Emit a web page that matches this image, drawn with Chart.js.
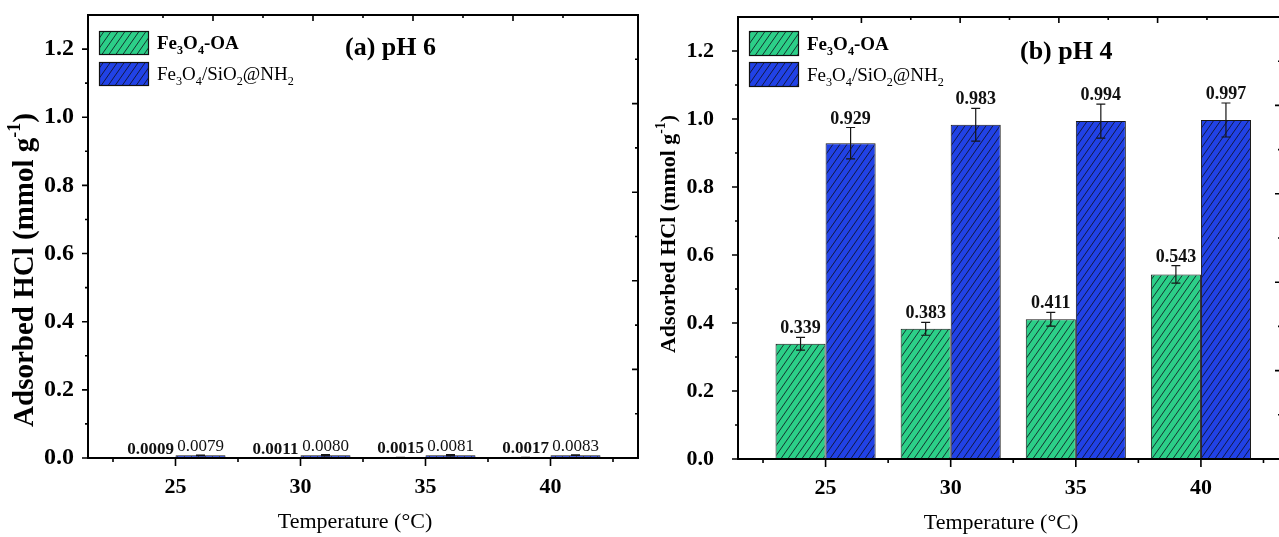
<!DOCTYPE html>
<html><head><meta charset="utf-8">
<script src="https://cdn.jsdelivr.net/npm/chart.js@4.4.1/dist/chart.umd.min.js"></script>
<style>
html,body{margin:0;padding:0;background:#fff;overflow:hidden;width:1279px;height:537px;position:relative;}
canvas{position:absolute;top:0;}
</style></head><body>
<canvas id="pa" width="660" height="537" style="left:0;width:660px;height:537px"></canvas>
<canvas id="pb" width="660" height="537" style="left:640px;width:660px;height:537px"></canvas>
<script>
// ---------- data ----------
const temperatures = [25, 30, 35, 40];
const seriesNames = ['Fe3O4-OA', 'Fe3O4/SiO2@NH2'];
const ph6OA = [0.0009, 0.0011, 0.0015, 0.0017];
const ph6NH2 = [0.0079, 0.0080, 0.0081, 0.0083];
const ph6OAErr = [0.0003, 0.0003, 0.0004, 0.0004];
const ph6NH2Err = [0.0008, 0.0020, 0.0020, 0.0010];
const ph4OA = [0.339, 0.383, 0.411, 0.543];
const ph4NH2 = [0.929, 0.983, 0.994, 0.997];
const ph4OAErr = [0.019, 0.019, 0.020, 0.026];
const ph4NH2Err = [0.046, 0.048, 0.050, 0.050];
const yTickValues = [0, 0.2, 0.4, 0.6, 0.8, 1.0, 1.2];
const yMinorValues = [0.1, 0.3, 0.5, 0.7, 0.9, 1.1];
const xMinorValues = [22.5, 27.5, 32.5, 37.5, 42.5];
const frameMajor = [1, 2, 3, 4];
const frameMinor = [0.5, 1.5, 2.5, 3.5, 4.5];
const panelTitles = ['(a) pH 6', '(b) pH 4'];
const xTitle = 'Temperature (°C)';
const yTitleParts = [['Adsorbed HCl (mmol g', ''], ['-1', 'sup'], [')', '']];

const FAM = '"Liberation Serif", "Times New Roman", serif';
const GREEN = '#2ccf88';
const BLUE = '#2142e6';

function hatch(color) {
  const c = document.createElement('canvas');
  c.width = 7; c.height = 10;
  const g = c.getContext('2d');
  g.fillStyle = color; g.fillRect(0, 0, 7, 10);
  g.strokeStyle = 'rgba(15,15,25,0.8)'; g.lineWidth = 1;
  g.beginPath();
  g.moveTo(-2.1, 13); g.lineTo(9.1, -3);
  g.moveTo(-2.1, 3); g.lineTo(2.1, -3);
  g.moveTo(4.9, 13); g.lineTo(9.1, 7);
  g.stroke();
  return c;
}
const hatchCanvases = [hatch(GREEN), hatch(BLUE)];

function richText(ctx, text, x, y, size, weight) {
  // digits in chemical names are subscripts
  let cx = x;
  for (const ch of text) {
    const sub = /\d/.test(ch);
    const s = sub ? size * 0.64 : size;
    ctx.font = `${weight} ${s}px ${FAM}`;
    ctx.fillText(ch, cx, sub ? y + size * 0.26 : y);
    cx += ctx.measureText(ch).width;
  }
}

function partsWidth(ctx, parts, size) {
  let w = 0;
  for (const [t, k] of parts) {
    ctx.font = `bold ${k === 'sup' ? size * 0.62 : size}px ${FAM}`;
    w += ctx.measureText(t).width;
  }
  return w;
}

const decor = {
  id: 'panelDecor',
  afterDatasetsDraw(chart) {
    const o = chart.options.plugins.panelDecor;
    const ctx = chart.ctx, ys = chart.scales.y;
    ctx.save();
    chart.data.datasets.forEach((ds, di) => {
      const meta = chart.getDatasetMeta(di);
      meta.data.forEach((bar, i) => {
        const v = ds.data[i].y, e = ds.errors[i];
        const yt = ys.getPixelForValue(v + e), yb = ys.getPixelForValue(v - e);
        ctx.strokeStyle = '#151515'; ctx.lineWidth = 1.2;
        ctx.beginPath();
        ctx.moveTo(bar.x, yt); ctx.lineTo(bar.x, yb);
        ctx.moveTo(bar.x - 4.5, yt); ctx.lineTo(bar.x + 4.5, yt);
        ctx.moveTo(bar.x - 4.5, yb); ctx.lineTo(bar.x + 4.5, yb);
        ctx.stroke();
        ctx.fillStyle = '#111';
        ctx.font = `${o.labelWeights[di]} ${o.labelSize}px ${FAM}`;
        ctx.textAlign = 'center'; ctx.textBaseline = 'alphabetic';
        ctx.fillText(v.toFixed(o.digits), bar.x, yt - o.labelGap);
      });
    });
    ctx.restore();
  },
  afterDraw(chart) {
    const o = chart.options.plugins.panelDecor;
    const ctx = chart.ctx, a = chart.chartArea;
    const xs = chart.scales.x, ys = chart.scales.y, x2 = chart.scales.x2, y2 = chart.scales.y2;
    ctx.save();
    ctx.strokeStyle = '#000'; ctx.lineWidth = 2;
    ctx.strokeRect(a.left, a.top, a.right - a.left, a.bottom - a.top);
    ctx.lineWidth = 1.6;
    ctx.beginPath();
    temperatures.forEach(v => { const p = xs.getPixelForValue(v); ctx.moveTo(p, a.bottom); ctx.lineTo(p, a.bottom + 8); });
    xMinorValues.forEach(v => { const p = xs.getPixelForValue(v); ctx.moveTo(p, a.bottom); ctx.lineTo(p, a.bottom + 4); });
    yTickValues.forEach(v => { const p = ys.getPixelForValue(v); ctx.moveTo(a.left, p); ctx.lineTo(a.left - 6, p); });
    yMinorValues.forEach(v => { const p = ys.getPixelForValue(v); ctx.moveTo(a.left, p); ctx.lineTo(a.left - 3, p); });
    frameMajor.forEach(v => {
      const px = x2.getPixelForValue(v); ctx.moveTo(px, a.top); ctx.lineTo(px, a.top + 6);
      const py = y2.getPixelForValue(v); ctx.moveTo(a.right, py); ctx.lineTo(a.right - 6, py);
    });
    frameMinor.forEach(v => {
      const px = x2.getPixelForValue(v); ctx.moveTo(px, a.top); ctx.lineTo(px, a.top + 3);
      const py = y2.getPixelForValue(v); ctx.moveTo(a.right, py); ctx.lineTo(a.right - 3, py);
    });
    ctx.stroke();

    // legend
    ctx.textAlign = 'left'; ctx.textBaseline = 'alphabetic';
    chart.data.datasets.forEach((ds, di) => {
      const top = o.legendY + di * o.legendGap;
      const pat = ctx.createPattern(hatchCanvases[di], 'repeat');
      ctx.fillStyle = pat;
      ctx.fillRect(o.legendX, top, o.legendW, o.legendH);
      ctx.strokeStyle = '#111'; ctx.lineWidth = 1.2;
      ctx.strokeRect(o.legendX + 0.5, top + 0.5, o.legendW - 1, o.legendH - 1);
      ctx.fillStyle = '#000';
      richText(ctx, ds.label, o.legendTextX, top + o.legendH / 2 + o.legendSize * 0.33, o.legendSize, o.legendWeights[di]);
    });

    // panel title
    ctx.fillStyle = '#000';
    ctx.font = `bold ${o.titleSize}px ${FAM}`;
    ctx.textBaseline = 'middle';
    ctx.fillText(o.title, o.titleX, o.titleY);

    // x title
    ctx.font = `${o.xTitleSize}px ${FAM}`;
    ctx.textAlign = 'center';
    ctx.fillText(xTitle, o.xTitleX, o.xTitleY);

    // y title (rotated)
    ctx.translate(o.yTitleX, o.yTitleY);
    ctx.rotate(-Math.PI / 2);
    const w = partsWidth(ctx, yTitleParts, o.yTitleSize);
    let cx = -w / 2;
    ctx.textAlign = 'left'; ctx.textBaseline = 'middle';
    for (const [t, k] of yTitleParts) {
      const s = k === 'sup' ? o.yTitleSize * 0.62 : o.yTitleSize;
      ctx.font = `bold ${s}px ${FAM}`;
      ctx.fillText(t, cx, k === 'sup' ? -o.yTitleSize * 0.36 : 0);
      cx += ctx.measureText(t).width;
    }
    ctx.restore();
  }
};

function makePanel(id, oa, nh2, oaErr, nh2Err, cfg) {
  const canvas = document.getElementById(id);
  const ctx = canvas.getContext('2d');
  const datasets = [[oa, oaErr], [nh2, nh2Err]].map(([vals, errs], di) => ({
    label: seriesNames[di],
    data: temperatures.map((t, i) => ({ x: t, y: vals[i] })),
    errors: errs,
    backgroundColor: ctx.createPattern(hatchCanvases[di], 'repeat'),
    borderColor: '#161616',
    borderWidth: 1,
    borderSkipped: false,
    categoryPercentage: 0.8,
    barPercentage: 1.0,
    xAxisID: 'x', yAxisID: 'y'
  }));
  return new Chart(canvas, {
    type: 'bar',
    data: { datasets },
    plugins: [decor],
    options: {
      responsive: false, animation: false, devicePixelRatio: 1,
      layout: { padding: { top: cfg.top, right: cfg.padRight, left: 0, bottom: 0 } },
      plugins: { legend: { display: false }, tooltip: { enabled: false }, panelDecor: cfg.decor },
      scales: {
        x: {
          type: 'linear', position: 'bottom', min: 21.5, max: cfg.xMax, offset: false,
          afterBuildTicks: s => { s.ticks = temperatures.map(v => ({ value: v })); },
          afterFit: s => { s.height = 537 - cfg.bottom; s.paddingLeft = 0; s.paddingRight = 0; },
          grid: { display: false }, border: { display: false },
          ticks: { color: '#000', padding: cfg.xPad, font: { family: FAM, size: 22, weight: 'bold' }, callback: v => String(v) }
        },
        y: {
          type: 'linear', position: 'left', min: 0, max: 1.3,
          afterBuildTicks: s => { s.ticks = yTickValues.map(v => ({ value: v })); },
          afterFit: s => { s.width = cfg.left; s.paddingTop = 0; s.paddingBottom = 0; },
          grid: { display: false }, border: { display: false },
          ticks: { color: '#000', padding: cfg.yPad, font: { family: FAM, size: cfg.yTickSize, weight: 'bold' }, callback: v => v.toFixed(1) }
        },
        x2: { type: 'linear', position: 'top', min: 0, max: 5, display: false },
        y2: { type: 'linear', position: 'right', min: 0, max: 5, display: false }
      }
    }
  });
}

makePanel('pa', ph6OA, ph6NH2, ph6OAErr, ph6NH2Err, {
  top: 15, bottom: 458, left: 88, padRight: 22, xMax: 43.5, xPad: 8, yPad: 6, yTickSize: 24,
  decor: {
    title: panelTitles[0], titleX: 345, titleY: 48, titleSize: 26,
    legendX: 99, legendY: 31, legendW: 50, legendH: 24, legendGap: 31, legendTextX: 157, legendSize: 19,
    legendWeights: ['bold', 'normal'],
    yTitleX: 26, yTitleY: 270, yTitleSize: 29,
    xTitleX: 355, xTitleY: 522, xTitleSize: 22,
    labelSize: 17, labelWeights: ['bold', 'normal'], digits: 4, labelGap: 4
  }
});

makePanel('pb', ph4OA, ph4NH2, ph4OAErr, ph4NH2Err, {
  top: 17, bottom: 459, left: 98, padRight: 19, xMax: 43.2, xPad: 8, yPad: 16, yTickSize: 22,
  decor: {
    title: panelTitles[1], titleX: 380, titleY: 52, titleSize: 26,
    legendX: 109, legendY: 31, legendW: 50, legendH: 25, legendGap: 31, legendTextX: 167, legendSize: 19,
    legendWeights: ['bold', 'normal'],
    yTitleX: 29, yTitleY: 234, yTitleSize: 22,
    xTitleX: 361, xTitleY: 523, xTitleSize: 22,
    labelSize: 18, labelWeights: ['bold', 'bold'], digits: 3, labelGap: 4
  }
});
</script>
</body></html>
